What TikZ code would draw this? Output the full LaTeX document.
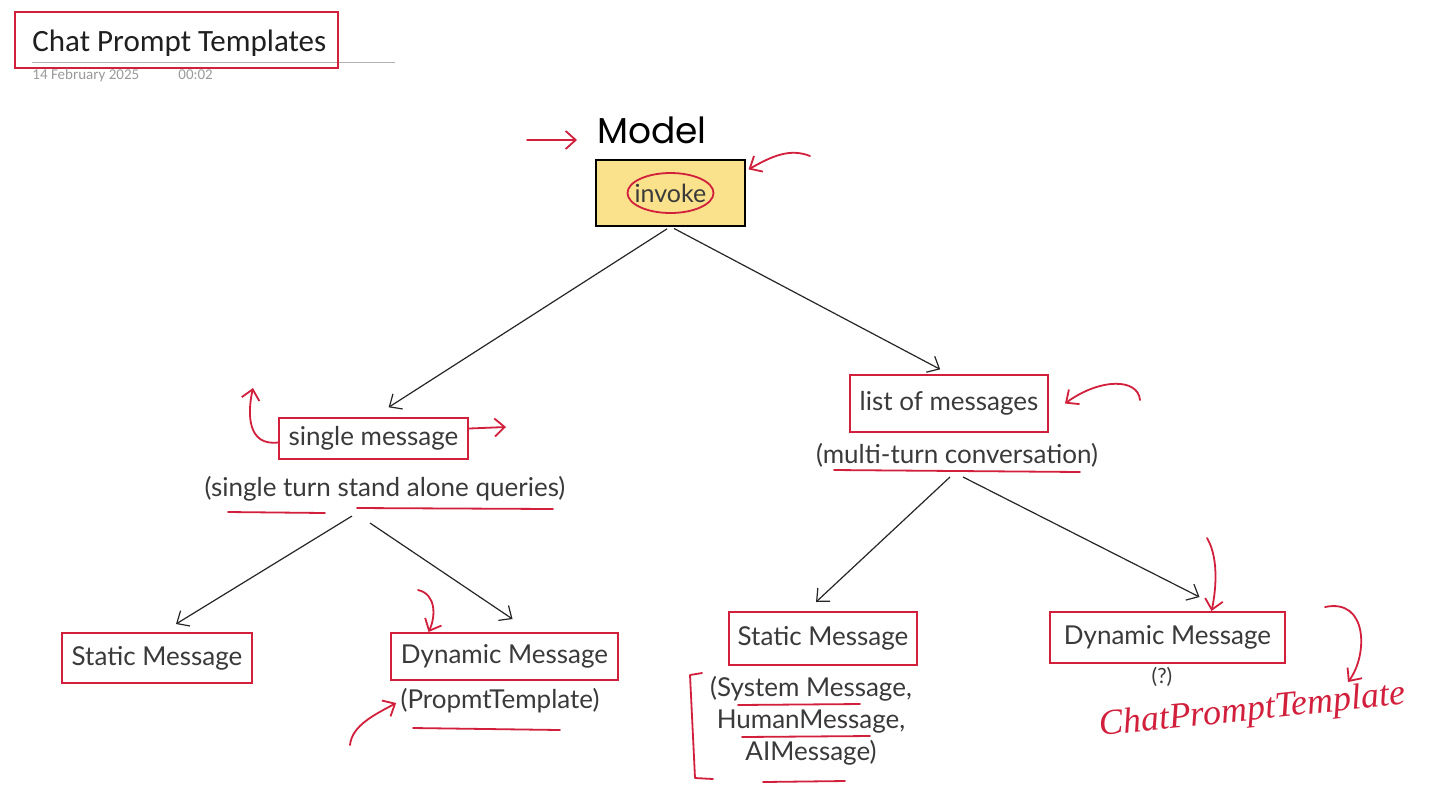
\documentclass[tikz,border=0pt]{standalone}
\usepackage{fontspec}
\setmainfont{Lato}
\newfontfamily\titlefont{Carlito}
\newfontfamily\handfont{Poppins}
\newfontfamily\cursivefont{Liberation Serif}
\usetikzlibrary{arrows.meta}
\definecolor{hred}{HTML}{D21F3C}
\definecolor{txt}{HTML}{3A3A3A}
\definecolor{invfill}{HTML}{FAE18C}
\definecolor{datec}{HTML}{9A9A9A}
\tikzset{
 redbox/.style={draw=hred, line width=1pt, text=txt, font=\fontsize{13}{15}\selectfont, inner sep=0pt},
 plain/.style={text=txt, font=\fontsize{13}{15}\selectfont, inner sep=0pt},
 arr/.style={draw=black!85, line width=0.6pt, -{Straight Barb[length=5pt,width=9pt]}},
 hand/.style={draw=hred, line width=0.9pt, line cap=round, line join=round},
 handarr/.style={hand, -{Straight Barb[length=5pt,width=9pt]}},
}
\begin{document}
\begin{tikzpicture}[x=0.5pt,y=-0.5pt]
\fill[white] (0,0) rectangle (1443,788);
\path[use as bounding box] (0,0) rectangle (1443,788);
% title
\node[anchor=base west, font=\titlefont\fontsize{15.5}{18}\selectfont, text=black!88, inner sep=0pt] (title) at (32,51) {Chat Prompt Templates};
\draw[gray!60, line width=0.4pt] (32,62) -- (395,62);
\node[draw=hred, line width=1pt, minimum width=161.5pt, minimum height=28pt, inner sep=0pt] (tbox) at (176.5,40) {};
\node[anchor=base west, font=\titlefont\fontsize{7.5}{9}\selectfont, text=datec, inner sep=0pt] (date) at (32,79) {14 February 2025};
\node[anchor=base west, font=\titlefont\fontsize{7.5}{9}\selectfont, text=datec, inner sep=0pt] (time) at (178,79) {00:02};
% model
\node[font=\handfont\fontsize{18}{20}\selectfont, text=black, inner sep=0pt] (model) at (652,130) {Model};
\coordinate (ma) at (527,140);
\coordinate (mb) at (577,140);
\draw[handarr] (ma) -- (mb);
\node[draw=black, line width=0.6pt, fill=invfill, text=txt, font=\fontsize{12.5}{15}\selectfont, minimum width=74.5pt, minimum height=33pt, inner sep=0pt] (inv) at (670.5,193) {invoke};
\draw[hand] (inv.center) ellipse [x radius=21.5pt, y radius=10pt];
\coordinate (ia) at (810,156);
\draw[handarr] (ia) .. controls (790,148) and (772,156) .. ([xshift=1.5pt,yshift=-5pt]inv.north east);
% level 1
\node[redbox, minimum width=94.5pt, minimum height=20.5pt] (single) at (373.5,438.5) {single message};
\node[plain] (q1) at (385,489) {(single turn stand alone queries)};
\node[redbox, minimum width=99pt, minimum height=28.5pt] (list) at (949,403.5) {list of messages};
\node[plain] (m2) at (957,455) {(multi-turn conversation)};
\draw[arr, shorten <=2pt, shorten >=9pt] (inv.south) -- (single.north);
\draw[arr, shorten <=2pt, shorten >=5pt] (inv.south) -- (list.north);
% annotations level 1
\coordinate (sl) at (253,388);
\draw[handarr] ([yshift=-2pt]single.west) .. controls (248,446) and (247,415) .. (sl);
\coordinate (sr) at (506,427);
\draw[handarr] ([yshift=5pt]single.east) -- (sr);
\draw[hand] (228,512) -- (325,513);
\draw[hand] (357,508) -- (553,509);
\coordinate (la) at (1140,400);
\draw[handarr] (la) .. controls (1138,378) and (1100,378) .. ([xshift=8pt]list.east);
\draw[hand] (834,470) -- (1080,472);
% level 2
\node[redbox, minimum width=95pt, minimum height=25pt] (static1) at (157,658) {Static Message};
\node[redbox, minimum width=113.5pt, minimum height=23.5pt] (dyn1) at (504.5,656.5) {Dynamic Message};
\node[plain] (pt) at (500,701) {(PropmtTemplate)};
\node[redbox, minimum width=94pt, minimum height=26.5pt] (static2) at (823,638.5) {Static Message};
\node[plain, align=center, font=\fontsize{13}{16}\selectfont] (msgs) at (811,721) {(System Message,\\HumanMessage,\\AIMessage)};
\node[redbox, minimum width=117.5pt, minimum height=25.5pt] (dyn2) at (1167.5,637.5) {Dynamic Message};
\node[plain, font=\fontsize{10.5}{12}\selectfont] (qm) at (1162,677) {(?)};
\coordinate (q1l) at (352,516);
\coordinate (q1r) at (370,523);
\coordinate (m2l) at (950,477);
\coordinate (m2r) at (963,477);
\draw[arr] (q1l) -- ([xshift=9.5pt,yshift=4pt]static1.north);
\draw[arr] (q1r) -- ([xshift=4pt,yshift=6.5pt]dyn1.north);
\draw[arr] (m2l) -- ([xshift=-3.5pt,yshift=4.5pt]static2.north);
\draw[arr] (m2r) -- ([xshift=16pt,yshift=7pt]dyn2.north);
% annotations level 2
\coordinate (dh) at (418,590);
\draw[handarr] (dh) .. controls (436,594) and (436,616) .. ([xshift=-38pt]dyn1.north);
\coordinate (pa) at (350,745);
\draw[handarr] (pa) .. controls (352,725) and (376,714) .. ([xshift=-2pt,yshift=-1pt]pt.west);
\draw[hand] (413,728) -- (560,730);
\draw[hand] (702,673) -- (690,675) -- (695,778) -- (713,779);
\draw[hand] (738,705) -- (860,704);
\draw[hand] (742,737) -- (870,736);
\draw[hand] (763,782) -- (845,781);
\coordinate (da) at (1207,538);
\draw[handarr] (da) .. controls (1220,560) and (1215,595) .. ([xshift=22pt]dyn2.north);
\coordinate (ca) at (1325,607);
\coordinate (cb) at (1348,682);
\draw[handarr] (ca) .. controls (1368,598) and (1368,655) .. (cb);
\node[font=\cursivefont\itshape\fontsize{18}{20}\selectfont, text=hred, rotate=6, anchor=base west, inner sep=0pt] (cpt) at (1100,736) {ChatPromptTemplate};
\end{tikzpicture}
\end{document}
